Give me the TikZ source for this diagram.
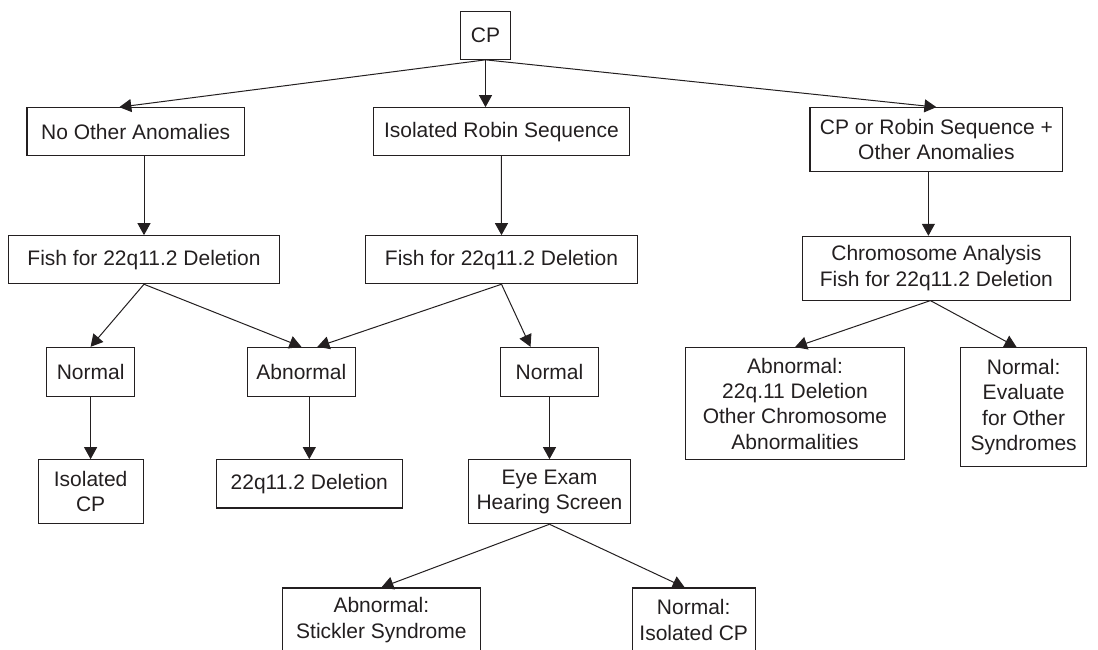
\documentclass[tikz,border=0pt]{standalone}
\usepackage{fontspec}
\setmainfont{Liberation Sans}
\usetikzlibrary{arrows.meta}
\definecolor{ink}{RGB}{35,31,32}
\begin{document}
\begin{tikzpicture}[x=1pt,y=-1pt,
  box/.style={draw=ink, line width=1.1pt, text=ink, inner sep=0pt, align=center,
    font=\fontsize{21}{25.3}\selectfont},
  conn/.style={draw=ink, line width=1pt, -{Triangle[length=12pt,width=13pt]}}]
\useasboundingbox (0,0) rectangle (1098,650);
% row 0
\node[box, minimum width=50.5pt, minimum height=47.6pt] (cp) at (485.5,35.5) {CP};
% row 1
\node[box, minimum width=217.5pt, minimum height=48pt] (noa) at (135.7,131.7) {No Other Anomalies};
\node[box, minimum width=256pt, minimum height=48pt] (irs) at (501.4,131.7) {Isolated Robin Sequence};
\node[box, minimum width=252.8pt, minimum height=64pt] (cpr) at (936.4,139.7) {CP or Robin Sequence +\\Other Anomalies};
% row 2
\node[box, minimum width=270.4pt, minimum height=48pt] (f1) at (144,259.7) {Fish for 22q11.2 Deletion};
\node[box, minimum width=271.6pt, minimum height=48pt] (f2) at (501.5,259.7) {Fish for 22q11.2 Deletion};
\node[box, minimum width=267.3pt, minimum height=63.7pt] (chr) at (936.4,268.2) {Chromosome Analysis\\Fish for 22q11.2 Deletion};
% row 3
\node[box, minimum width=87.5pt, minimum height=48.7pt] (n1) at (90.6,371.7) {Normal};
\node[box, minimum width=107.8pt, minimum height=48.7pt] (ab) at (301.4,371.7) {Abnormal};
\node[box, minimum width=98.3pt, minimum height=48.7pt] (n2) at (549.5,371.7) {Normal};
\node[box, minimum width=219.4pt, minimum height=112pt] (abn) at (795,403.7) {Abnormal:\\22q.11 Deletion\\Other Chromosome\\Abnormalities};
\node[box, minimum width=126.2pt, minimum height=119pt] (nev) at (1023.6,407.2) {Normal:\\Evaluate\\for Other\\Syndromes};
% row 4
\node[box, minimum width=104.9pt, minimum height=64pt] (icp) at (90.6,491.7) {Isolated\\CP};
\node[box, minimum width=185.8pt, minimum height=48.3pt] (del) at (309.3,483.8) {22q11.2 Deletion};
\node[box, minimum width=162.1pt, minimum height=64pt] (eye) at (549.5,491.7) {Eye Exam\\Hearing Screen};
% row 5
\node[box, minimum width=197.3pt, minimum height=64pt] (stk) at (381.4,620) {Abnormal:\\Stickler Syndrome};
\node[box, minimum width=123.3pt, minimum height=64pt] (nic) at (693.7,620) {Normal:\\Isolated CP};
% connectors
\draw[conn] (cp.south) -- ([xshift=-16.4pt]noa.north);
\draw[conn] (cp.south) -- (cp.south |- irs.north);
\draw[conn] (cp.south) -- (cpr.north);
\draw[conn] (f1.north |- noa.south) -- (f1.north);
\draw[conn] (irs.south) -- (f2.north);
\draw[conn] ([xshift=-8pt]cpr.south) -- ([xshift=-8pt]chr.north);
\draw[conn] (f1.south) -- (n1.north);
\draw[conn] (f1.south) -- (ab.north);
\draw[conn] (f2.south) -- ([xshift=16pt]ab.north);
\draw[conn] (f2.south) -- ([xshift=-19pt]n2.north);
\draw[conn] (n1.south) -- (icp.north);
\draw[conn] (del.north |- ab.south) -- (del.north);
\draw[conn] (n2.south) -- (eye.north);
\draw[conn] (eye.south) -- (stk.north);
\draw[conn] (eye.south) -- ([xshift=-9pt]nic.north);
\draw[conn] ([xshift=-6pt]chr.south) -- (abn.north);
\draw[conn] ([xshift=-6pt]chr.south) -- ([xshift=-7pt]nev.north);
\end{tikzpicture}
\end{document}
